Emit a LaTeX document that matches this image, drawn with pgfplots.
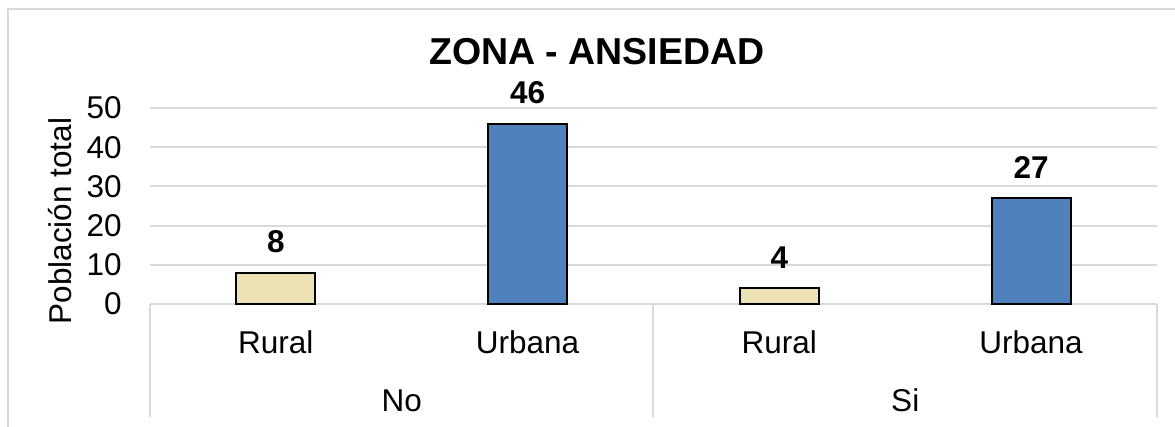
\documentclass[border=0pt]{standalone}
\usepackage{fontspec}
\setmainfont{Liberation Sans}
\usepackage{pgfplots}
\pgfplotsset{compat=1.18}
\definecolor{beige}{HTML}{EDE2B3}
\definecolor{azul}{HTML}{4F81BD}
\definecolor{grisl}{HTML}{D9D9D9}
\begin{document}
\begin{tikzpicture}
\path[use as bounding box] (0,0) rectangle (587.5pt,-213.5pt);
\draw[grisl, line width=0.75pt] (587.5pt,-4.5pt) -- (4pt,-4.5pt) -- (4pt,-213.5pt);
\node[font=\fontsize{18.75}{22}\selectfont\bfseries] at (298.5pt,-26pt) {ZONA - ANSIEDAD};
\node[rotate=90, font=\fontsize{15.75}{18}\selectfont] at (30pt,-110.5pt) {Población total};
\begin{axis}[
  at={(75pt,-152pt)}, anchor=south west,
  scale only axis, width=503.5pt, height=98pt,
  xmin=-0.5, xmax=3.5, ymin=0, ymax=50,
  ybar, bar width=39.5pt,
  ytick={0,10,...,50},
  xtick={0,1,2,3},
  xticklabels={Rural,Urbana,Rural,Urbana},
  extra x ticks={0.5,2.5},
  extra x tick labels={No,Si},
  extra x tick style={grid=none, major tick length=0pt, xticklabel style={yshift=-28.5pt}},
  ymajorgrids, grid style={grisl, line width=1pt},
  major tick length=0pt,
  axis line style={draw=none},
  tick label style={font=\fontsize{15.75}{18}\selectfont},
  /pgf/number format/assume math mode=true,
  xticklabel style={anchor=base, inner sep=0pt, yshift=-25pt},
  yticklabel style={anchor=east, inner sep=0pt, xshift=-14pt},
  nodes near coords,
  every node near coord/.append style={font=\fontsize{15.75}{18}\selectfont\bfseries, anchor=base, inner sep=0pt, yshift=10pt, text=black},
  clip=false,
]
\addplot[fill=beige, draw=black, line width=1pt, bar shift=0pt] coordinates {(0,8) (2,4)};
\addplot[fill=azul, draw=black, line width=1pt, bar shift=0pt] coordinates {(1,46) (3,27)};
\draw[grisl, line width=1pt] (axis cs:-0.5,0) -- ++(0pt,-56.5pt);
\draw[grisl, line width=1pt] (axis cs:1.5,0) -- ++(0pt,-56.5pt);
\draw[grisl, line width=1pt] (axis cs:3.5,0) -- ++(0pt,-56.5pt);
\end{axis}
\end{tikzpicture}
\end{document}
